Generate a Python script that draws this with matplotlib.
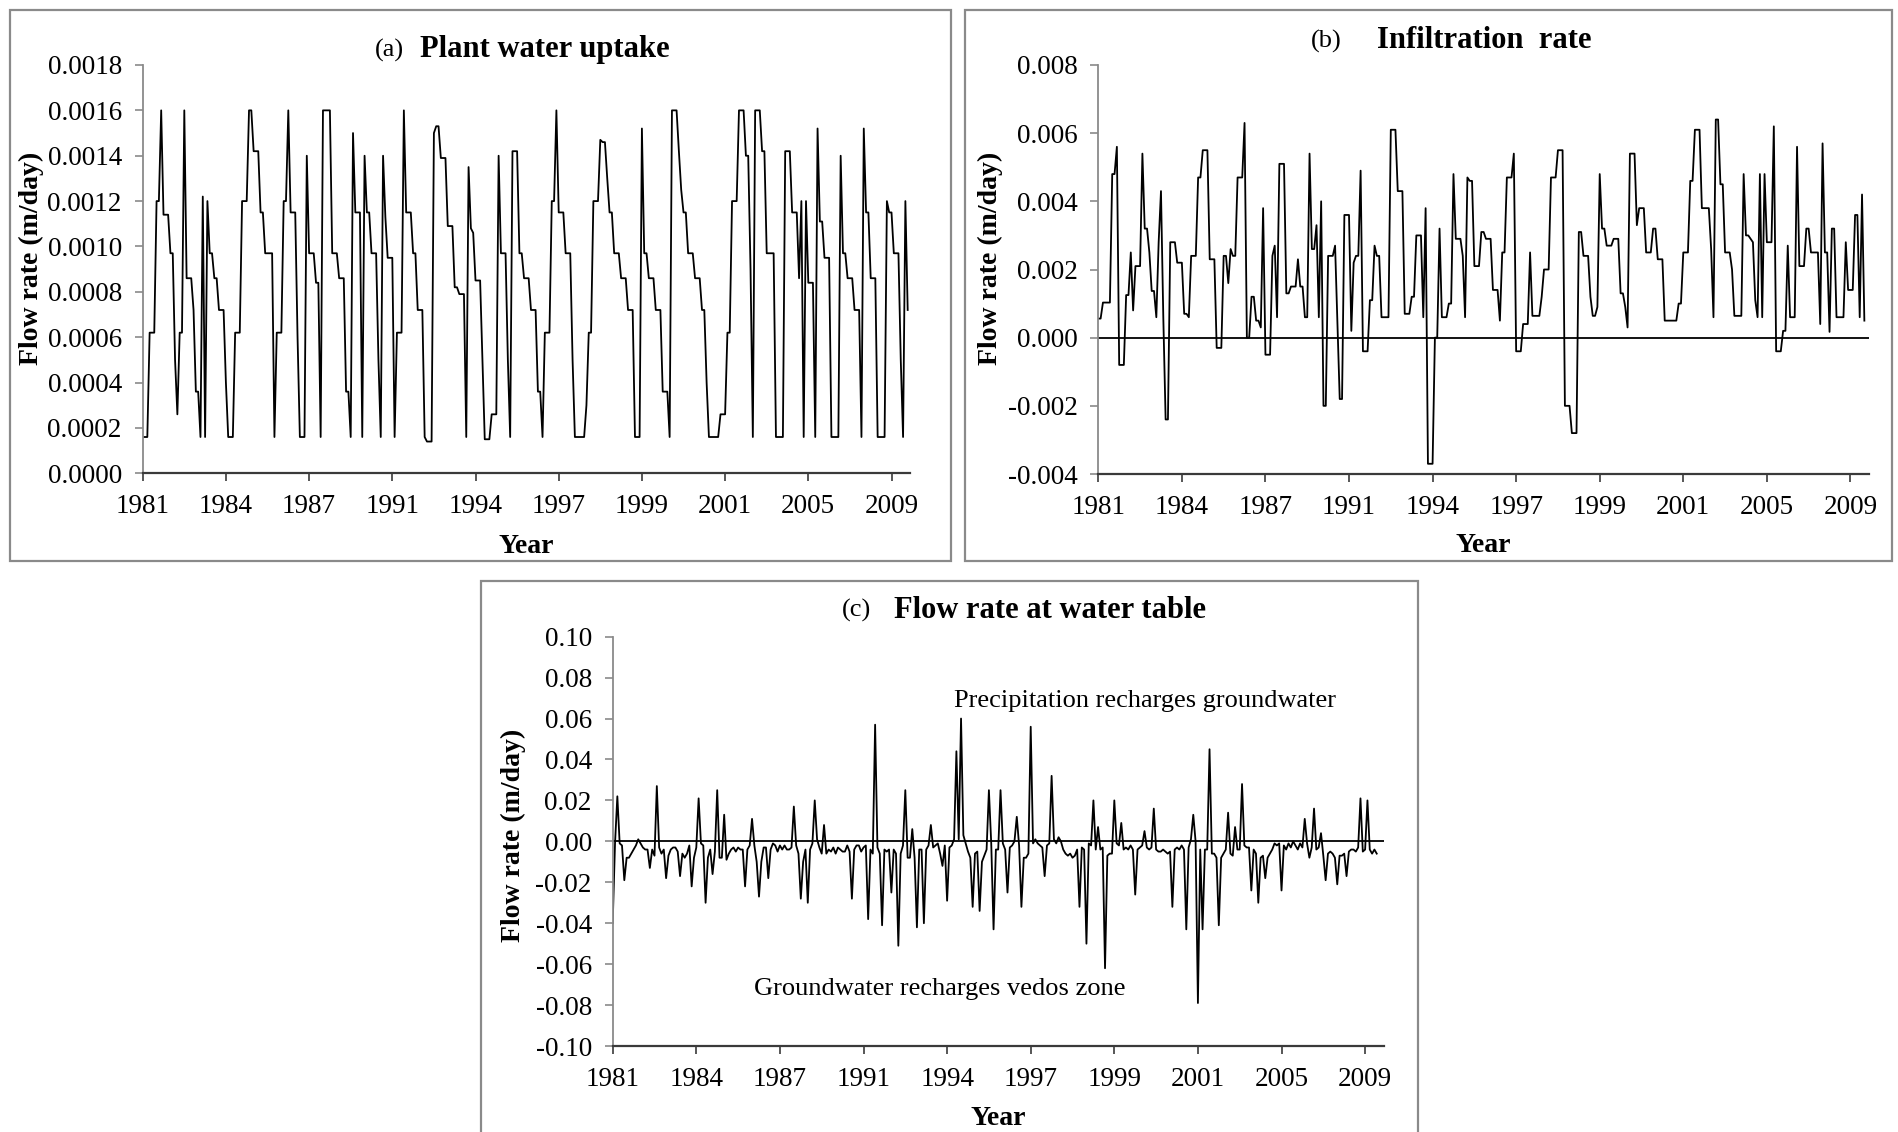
import matplotlib
matplotlib.use("Agg")
import matplotlib.pyplot as plt
from matplotlib.patches import Rectangle

plt.rcParams["font.family"] = ["Liberation Serif", "DejaVu Serif"]

# monthly values, one row per year of the record
uptake = [
    0.00016, 0.00016, 0.00016, 0.00062, 0.00062, 0.00062, 0.0012, 0.0012, 0.0016, 0.00114, 0.00114, 0.00114,
    0.00097, 0.00097, 0.0005, 0.00026, 0.00062, 0.00062, 0.0016, 0.00086, 0.00086, 0.00086, 0.00072, 0.00036,
    0.00036, 0.00016, 0.00122, 0.00016, 0.0012, 0.00097, 0.00097, 0.00086, 0.00086, 0.00072, 0.00072, 0.00072,
    0.0004, 0.00016, 0.00016, 0.00016, 0.00062, 0.00062, 0.00062, 0.0012, 0.0012, 0.0012, 0.0016, 0.0016,
    0.00142, 0.00142, 0.00142, 0.00115, 0.00115, 0.00097, 0.00097, 0.00097, 0.00097, 0.00016, 0.00062, 0.00062,
    0.00062, 0.0012, 0.0012, 0.0016, 0.00115, 0.00115, 0.00115, 0.0006, 0.00016, 0.00016, 0.00016, 0.0014,
    0.00097, 0.00097, 0.00097, 0.00084, 0.00084, 0.00016, 0.0016, 0.0016, 0.0016, 0.0016, 0.00097, 0.00097,
    0.00097, 0.00086, 0.00086, 0.00086, 0.00036, 0.00036, 0.00016, 0.0015, 0.00115, 0.00115, 0.00115, 0.00016,
    0.0014, 0.00115, 0.00115, 0.00097, 0.00097, 0.00097, 0.0005, 0.00016, 0.0014, 0.00113, 0.00095, 0.00095,
    0.00095, 0.00016, 0.00062, 0.00062, 0.00062, 0.0016, 0.00115, 0.00115, 0.00115, 0.00097, 0.00097, 0.00072,
    0.00072, 0.00072, 0.00016, 0.00014, 0.00014, 0.00014, 0.0015, 0.00153, 0.00153, 0.00139, 0.00139, 0.00139,
    0.00109, 0.00109, 0.00109, 0.00082, 0.00082, 0.00079, 0.00079, 0.00079, 0.00016, 0.00135, 0.00108, 0.00106,
    0.00085, 0.00085, 0.00085, 0.0005, 0.00015, 0.00015, 0.00015, 0.00026, 0.00026, 0.00026, 0.0014, 0.00097,
    0.00097, 0.00097, 0.0005, 0.00016, 0.00142, 0.00142, 0.00142, 0.00097, 0.00097, 0.00086, 0.00086, 0.00086,
    0.00072, 0.00072, 0.00072, 0.00036, 0.00036, 0.00016, 0.00062, 0.00062, 0.00062, 0.0012, 0.0012, 0.0016,
    0.00115, 0.00115, 0.00115, 0.00097, 0.00097, 0.00097, 0.0005, 0.00016, 0.00016, 0.00016, 0.00016, 0.00016,
    0.0003, 0.00062, 0.00062, 0.0012, 0.0012, 0.0012, 0.00147, 0.00146, 0.00146, 0.0013, 0.00115, 0.00115,
    0.00097, 0.00097, 0.00097, 0.00086, 0.00086, 0.00086, 0.00072, 0.00072, 0.00072, 0.00016, 0.00016, 0.00016,
    0.00152, 0.00097, 0.00097, 0.00086, 0.00086, 0.00086, 0.00072, 0.00072, 0.00072, 0.00036, 0.00036, 0.00036,
    0.00016, 0.0016, 0.0016, 0.0016, 0.00142, 0.00125, 0.00115, 0.00115, 0.00097, 0.00097, 0.00097, 0.00086,
    0.00086, 0.00086, 0.00072, 0.00072, 0.0004, 0.00016, 0.00016, 0.00016, 0.00016, 0.00016, 0.00026, 0.00026,
    0.00026, 0.00062, 0.00062, 0.0012, 0.0012, 0.0012, 0.0016, 0.0016, 0.0016, 0.0014, 0.0014, 0.0009,
    0.00016, 0.0016, 0.0016, 0.0016, 0.00142, 0.00142, 0.00097, 0.00097, 0.00097, 0.00097, 0.00016, 0.00016,
    0.00016, 0.00016, 0.00142, 0.00142, 0.00142, 0.00115, 0.00115, 0.00115, 0.00086, 0.0012, 0.00016, 0.0012,
    0.00084, 0.00084, 0.00084, 0.00016, 0.00152, 0.00111, 0.00111, 0.00095, 0.00095, 0.00095, 0.00016, 0.00016,
    0.00016, 0.00016, 0.0014, 0.00097, 0.00097, 0.00086, 0.00086, 0.00086, 0.00072, 0.00072, 0.00072, 0.00016,
    0.00152, 0.00115, 0.00115, 0.00086, 0.00086, 0.00086, 0.00016, 0.00016, 0.00016, 0.00016, 0.0012, 0.00115,
    0.00115, 0.00097, 0.00097, 0.00097, 0.0005, 0.00016, 0.0012, 0.00072,
]

infiltration = [
    0.00056, 0.00056, 0.00103, 0.00103, 0.00103, 0.00103, 0.0048, 0.0048, 0.0056, -0.0008, -0.0008, -0.0008,
    0.00125, 0.00125, 0.0025, 0.0008, 0.0021, 0.0021, 0.0021, 0.0054, 0.0032, 0.0032, 0.0025, 0.00137,
    0.00137, 0.0006, 0.0028, 0.0043, 0.0006, -0.0024, -0.0024, 0.0028, 0.0028, 0.0028, 0.0022, 0.0022,
    0.0022, 0.0007, 0.0007, 0.0006, 0.0024, 0.0024, 0.0024, 0.0047, 0.0047, 0.0055, 0.0055, 0.0055,
    0.0023, 0.0023, 0.0023, -0.0003, -0.0003, -0.0003, 0.0024, 0.0024, 0.0016, 0.0026, 0.0024, 0.0024,
    0.0047, 0.0047, 0.0047, 0.0063, 0.0, 0.0, 0.0012, 0.0012, 0.0005, 0.0005, 0.0003, 0.0038,
    -0.0005, -0.0005, -0.0005, 0.0024, 0.0027, 0.0006, 0.0051, 0.0051, 0.0051, 0.0013, 0.0013, 0.0015,
    0.0015, 0.0015, 0.0023, 0.0015, 0.0015, 0.0006, 0.0006, 0.0054, 0.0026, 0.0026, 0.0033, 0.0006,
    0.004, -0.002, -0.002, 0.0024, 0.0024, 0.0024, 0.0027, 0.0005, -0.0018, -0.0018, 0.0036, 0.0036,
    0.0036, 0.0002, 0.0022, 0.0024, 0.0024, 0.0049, -0.0004, -0.0004, -0.0004, 0.0011, 0.0011, 0.0027,
    0.0024, 0.0024, 0.0006, 0.0006, 0.0006, 0.0006, 0.0061, 0.0061, 0.0061, 0.0043, 0.0043, 0.0043,
    0.0007, 0.0007, 0.0007, 0.0012, 0.0012, 0.003, 0.003, 0.003, 0.0006, 0.0038, -0.0037, -0.0037,
    -0.0037, 0.0, 0.0, 0.0032, 0.0006, 0.0006, 0.0006, 0.001, 0.001, 0.0048, 0.0029, 0.0029,
    0.0029, 0.0024, 0.0006, 0.0047, 0.0046, 0.0046, 0.0021, 0.0021, 0.0021, 0.0031, 0.0031, 0.0029,
    0.0029, 0.0029, 0.0014, 0.0014, 0.0014, 0.0005, 0.0025, 0.0025, 0.0047, 0.0047, 0.0047, 0.0054,
    -0.0004, -0.0004, -0.0004, 0.0004, 0.0004, 0.0004, 0.0025, 0.00064, 0.00064, 0.00064, 0.00064, 0.0012,
    0.002, 0.002, 0.002, 0.0047, 0.0047, 0.0047, 0.0055, 0.0055, 0.0055, -0.002, -0.002, -0.002,
    -0.0028, -0.0028, -0.0028, 0.0031, 0.0031, 0.0024, 0.0024, 0.0024, 0.0012, 0.00064, 0.00064, 0.0009,
    0.0048, 0.0032, 0.0032, 0.0027, 0.0027, 0.0027, 0.0029, 0.0029, 0.0029, 0.0013, 0.0013, 0.0009,
    0.0003, 0.0054, 0.0054, 0.0054, 0.0033, 0.0038, 0.0038, 0.0038, 0.0025, 0.0025, 0.0025, 0.0032,
    0.0032, 0.0023, 0.0023, 0.0023, 0.0005, 0.0005, 0.0005, 0.0005, 0.0005, 0.0005, 0.001, 0.001,
    0.0025, 0.0025, 0.0025, 0.0046, 0.0046, 0.0061, 0.0061, 0.0061, 0.0038, 0.0038, 0.0038, 0.0038,
    0.0026, 0.0006, 0.0064, 0.0064, 0.0045, 0.0045, 0.0025, 0.0025, 0.0025, 0.002, 0.00064, 0.00064,
    0.00064, 0.00064, 0.0048, 0.003, 0.003, 0.0029, 0.0028, 0.0011, 0.0006, 0.0048, 0.0006, 0.0048,
    0.0028, 0.0028, 0.0028, 0.0062, -0.0004, -0.0004, -0.0004, 0.0002, 0.0002, 0.0027, 0.0006, 0.0006,
    0.0006, 0.0056, 0.0021, 0.0021, 0.0021, 0.0032, 0.0032, 0.0025, 0.0025, 0.0025, 0.0025, 0.0004,
    0.0057, 0.0025, 0.0025, 0.00017, 0.0032, 0.0032, 0.0006, 0.0006, 0.0006, 0.0006, 0.0028, 0.0014,
    0.0014, 0.0014, 0.0036, 0.0036, 0.0006, 0.0042, 0.0005,
]

water_table = [
    -0.04, -0.001, 0.022, -0.001, -0.002, -0.019, -0.008, -0.008, -0.006, -0.004, -0.002, 0.001,
    -0.001, -0.003, -0.004, -0.004, -0.013, -0.004, -0.007, 0.027, -0.003, -0.006, -0.004, -0.018,
    -0.007, -0.004, -0.003, -0.003, -0.005, -0.017, -0.006, -0.008, -0.006, -0.002, -0.022, -0.008,
    -0.003, 0.021, -0.001, -0.002, -0.03, -0.008, -0.004, -0.016, -0.005, 0.025, -0.008, -0.008,
    0.013, -0.009, -0.006, -0.004, -0.003, -0.005, -0.003, -0.004, -0.004, -0.022, -0.004, -0.002,
    0.011, -0.002, -0.01, -0.027, -0.01, -0.003, -0.003, -0.018, -0.004, -0.001, -0.002, -0.005,
    -0.002, -0.004, -0.002, -0.004, -0.004, -0.003, 0.017, -0.002, -0.006, -0.028, -0.01, -0.004,
    -0.03, -0.004, -0.001, 0.02, 0.001, -0.003, -0.006, 0.008, -0.006, -0.004, -0.005, -0.003,
    -0.006, -0.003, -0.004, -0.005, -0.005, -0.002, -0.005, -0.028, -0.004, -0.002, -0.002, -0.005,
    -0.003, -0.002, -0.038, -0.004, -0.006, 0.057, -0.003, -0.006, -0.041, -0.004, -0.005, -0.004,
    -0.025, -0.004, -0.006, -0.051, -0.006, -0.002, 0.025, -0.008, -0.008, 0.006, -0.008, -0.042,
    -0.004, -0.004, -0.04, -0.004, -0.002, 0.008, -0.003, -0.002, -0.001, -0.006, -0.012, -0.002,
    -0.029, -0.003, -0.002, 0.001, 0.044, 0.001, 0.06, 0.003, -0.001, -0.005, -0.008, -0.032,
    -0.006, -0.005, -0.034, -0.01, -0.007, -0.004, 0.025, -0.001, -0.043, -0.004, -0.004, 0.025,
    -0.001, -0.004, -0.025, -0.003, -0.002, 0.0, 0.012, -0.002, -0.032, -0.008, -0.008, -0.006,
    0.056, -0.001, 0.001, -0.001, -0.002, -0.003, -0.017, -0.002, -0.001, 0.032, 0.001, -0.001,
    0.002, 0.0, -0.004, -0.006, -0.007, -0.006, -0.008, -0.007, -0.004, -0.032, -0.003, -0.004,
    -0.05, -0.001, -0.002, 0.02, -0.004, 0.007, -0.004, -0.003, -0.062, -0.007, -0.006, -0.006,
    0.02, -0.001, -0.002, 0.009, -0.004, -0.003, -0.004, -0.002, -0.004, -0.026, -0.004, -0.003,
    -0.002, 0.005, -0.003, -0.004, -0.003, 0.016, -0.004, -0.005, -0.005, -0.004, -0.005, -0.006,
    -0.005, -0.032, -0.004, -0.003, -0.004, -0.002, -0.004, -0.043, -0.003, 0.001, 0.013, 0.0,
    -0.079, -0.004, -0.043, -0.004, -0.004, 0.045, -0.006, -0.006, -0.008, -0.041, -0.008, -0.006,
    -0.004, 0.014, -0.006, -0.007, 0.007, -0.004, -0.004, 0.028, -0.002, -0.003, -0.003, -0.024,
    -0.004, -0.006, -0.03, -0.008, -0.007, -0.018, -0.008, -0.006, -0.004, -0.001, -0.002, -0.001,
    -0.024, -0.002, -0.004, -0.001, -0.003, 0.0, -0.002, -0.004, -0.001, -0.003, 0.011, -0.001,
    -0.008, -0.003, 0.016, -0.004, -0.003, 0.004, -0.007, -0.019, -0.006, -0.005, -0.006, -0.008,
    -0.021, -0.007, -0.007, -0.006, -0.017, -0.005, -0.004, -0.004, -0.005, -0.003, 0.021, -0.005,
    -0.004, 0.02, -0.004, -0.006, -0.004, -0.006,
]

year_labels = ["1981", "1984", "1987", "1991", "1994", "1997", "1999", "2001", "2005", "2009"]
uptake_ticks = [0.0000, 0.0002, 0.0004, 0.0006, 0.0008, 0.0010, 0.0012, 0.0014, 0.0016, 0.0018]
infiltration_ticks = [-0.004, -0.002, 0.000, 0.002, 0.004, 0.006, 0.008]
water_table_ticks = [-0.10, -0.08, -0.06, -0.04, -0.02, 0.00, 0.02, 0.04, 0.06, 0.08, 0.10]

W, H = 1899, 1132
fig = plt.figure(figsize=(W / 100, H / 100), dpi=100)


def px_box(x0, y0, x1, y1):
    """Pixel box (top-left origin) -> figure fraction [left, bottom, width, height]."""
    return [x0 / W, 1 - y1 / H, (x1 - x0) / W, (y1 - y0) / H]


# grey frames round each panel
for x0, y0, x1, y1 in [(10, 10, 951, 561), (965, 10, 1892, 561), (481, 581, 1418, 1140)]:
    b = px_box(x0, y0, x1, y1)
    fig.patches.append(Rectangle((b[0], b[1]), b[2], b[3], transform=fig.transFigure,
                                 fill=False, edgecolor="#8a8a8a", linewidth=1.6))


def style_axes(ax, series, ticks, fmt, ylabel_xy, xlabel_y, zero_line):
    xs = range(len(series))
    ax.plot(xs, series, color="black", linewidth=1.3)
    if zero_line:
        ax.axhline(0, color="black", linewidth=1.3)
    ax.set_xlim(0, 332)
    ax.set_ylim(ticks[0], ticks[-1])
    ax.set_xticks([i * 36 for i in range(len(year_labels))])
    ax.set_xticklabels(year_labels)
    ax.set_yticks(ticks)
    ax.set_yticklabels([fmt.format(t) for t in ticks])
    for side in ["top", "right"]:
        ax.spines[side].set_visible(False)
    ax.spines["left"].set_color("#8a8a8a")
    ax.spines["left"].set_linewidth(1.3)
    ax.spines["bottom"].set_color("#3a3a3a")
    ax.spines["bottom"].set_linewidth(1.6)
    ax.tick_params(axis="y", direction="out", length=6, width=1.2, color="#8a8a8a",
                   labelsize=19.5, pad=9)
    ax.tick_params(axis="x", direction="out", length=6, width=1.2, color="#3a3a3a",
                   labelsize=19.5, pad=9)
    ax.set_ylabel("Flow rate (m/day)", fontsize=20, fontweight="bold")
    ax.yaxis.set_label_coords(*ylabel_xy)
    ax.set_xlabel("Year", fontsize=20, fontweight="bold")
    ax.xaxis.set_label_coords(0.5, xlabel_y)


ax_a = fig.add_axes(px_box(142.7, 65, 910, 473.3))
style_axes(ax_a, uptake, uptake_ticks, "{:.4f}", (-0.129, 0.527), -0.149, False)

ax_b = fig.add_axes(px_box(1098.3, 65, 1869, 474))
style_axes(ax_b, infiltration, infiltration_ticks, "{:.3f}", (-0.124, 0.527), -0.144, True)

ax_c = fig.add_axes(px_box(612.7, 636.7, 1383.7, 1046))
style_axes(ax_c, water_table, water_table_ticks, "{:.2f}", (-0.113, 0.514), -0.146, True)
ax_c.text(147, 0.0656, "Precipitation recharges groundwater", fontsize=19, va="baseline")
ax_c.text(61, -0.0751, "Groundwater recharges vedos zone", fontsize=19, va="baseline")

# panel titles: plain letter tag + bold name
for tag, name, x_tag, x_name, y in [
    ("(a)", "Plant water uptake", 404, 420, 50),
    ("(b)", "Infiltration  rate", 1342, 1377, 41),
    ("(c)", "Flow rate at water table", 871, 894, 610),
]:
    fig.text(x_tag / W, 1 - y / H, tag, fontsize=19, ha="right", va="center")
    fig.text(x_name / W, 1 - y / H, name, fontsize=22, fontweight="bold", ha="left", va="center")

fig.savefig("out.png", dpi=100, facecolor="white")
